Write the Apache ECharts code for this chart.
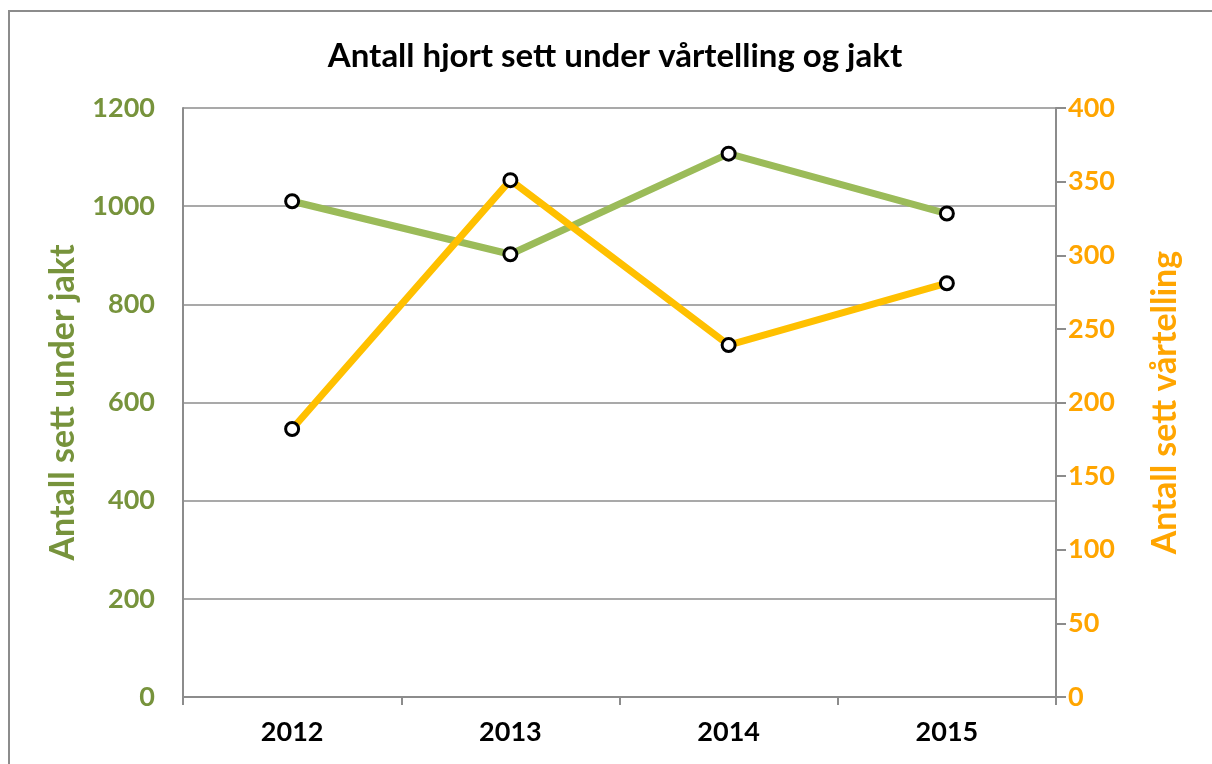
<!DOCTYPE html>
<html>
<head>
<meta charset="utf-8">
<script src="https://cdn.jsdelivr.net/npm/echarts@6/dist/echarts.min.js"></script>
<style>
  html, body { margin: 0; padding: 0; background: #fff; }
  #frame { position: absolute; left: 8px; top: 10px; width: 1210px; height: 760px; border: 2px solid #8c8c8c; box-sizing: border-box; }
  #chart { position: absolute; left: 0; top: 0; width: 1212px; height: 764px; }
</style>
</head>
<body>
<div id="frame"></div>
<div id="chart"></div>
<script>
(function(){

    var years      = ['2012', '2013', '2014', '2015'];
    var jakt       = [1010, 902, 1107, 985];
    var vartelling = [182, 351, 239, 281];

    var green_text  = '#77933c';
    var orange_text = '#ffa500';
    var font        = 'Lato, "Open Sans", sans-serif';

    var chart = echarts.init(document.getElementById('chart'), null, {renderer: 'canvas'});

    var marker = {
        symbol: 'circle',
        symbolSize: 13,
        itemStyle: {color: '#ffffff', borderColor: '#000000', borderWidth: 3}
    };

    var option = {
        animation: false,
        backgroundColor: 'transparent',

        title: {
            text: 'Antall hjort sett under vårtelling og jakt',
            left: 610,
            textAlign: 'center',
            top: 35,
            textStyle: {fontFamily: font, fontSize: 33, fontWeight: 'bold', color: '#000'}
        },

        grid: {left: 183, right: 156, top: 108, bottom: 67, show: true, borderColor: '#a0a0a0', borderWidth: 0},

        xAxis: {
            type: 'category',
            data: years,
            boundaryGap: true,
            axisLine: {lineStyle: {color: '#8c8c8c', width: 2}},
            axisTick: {show: true, length: 8, lineStyle: {color: '#8c8c8c', width: 2}},
            axisLabel: {fontFamily: font, fontSize: 27, fontWeight: 'bold', color: '#000', margin: 22}
        },

        yAxis: [{
            type: 'value',
            min: 0,
            max: 1200,
            interval: 200,
            name: 'Antall sett under jakt',
            nameLocation: 'middle',
            nameGap: 103,
            nameTextStyle: {fontFamily: font, fontSize: 34, fontWeight: 'bold', color: green_text},
            axisLine: {show: true, lineStyle: {color: '#8c8c8c', width: 2}},
            axisTick: {show: false},
            axisLabel: {fontFamily: font, fontSize: 27, fontWeight: 'bold', color: green_text, margin: 28,
                        formatter: function (v) { return String(v); }},
            splitLine: {show: true, lineStyle: {color: '#8c8c8c', width: 1.5}}
        }, {
            type: 'value',
            min: 0,
            max: 400,
            interval: 50,
            name: 'Antall sett vårtelling',
            nameLocation: 'middle',
            nameGap: 92,
            nameRotate: 90,
            nameTextStyle: {fontFamily: font, fontSize: 34, fontWeight: 'bold', color: orange_text},
            position: 'right',
            axisLine: {show: true, lineStyle: {color: '#8c8c8c', width: 2}},
            axisTick: {show: true, length: 10, lineStyle: {color: '#8c8c8c', width: 2}},
            axisLabel: {fontFamily: font, fontSize: 27, fontWeight: 'bold', color: orange_text, margin: 12},
            splitLine: {show: false}
        }],

        series: [{
            name: 'Antall sett under jakt',
            type: 'line',
            yAxisIndex: 0,
            data: jakt,
            lineStyle: {color: '#9bbb59', width: 7},
            symbol: marker.symbol,
            symbolSize: marker.symbolSize,
            itemStyle: marker.itemStyle,
            z: 3
        }, {
            name: 'Antall sett vårtelling',
            type: 'line',
            yAxisIndex: 1,
            data: vartelling,
            lineStyle: {color: '#ffc000', width: 7},
            symbol: marker.symbol,
            symbolSize: marker.symbolSize,
            itemStyle: marker.itemStyle,
            z: 4
        }]
    };

    chart.setOption(option);

})();
</script>
</body>
</html>
